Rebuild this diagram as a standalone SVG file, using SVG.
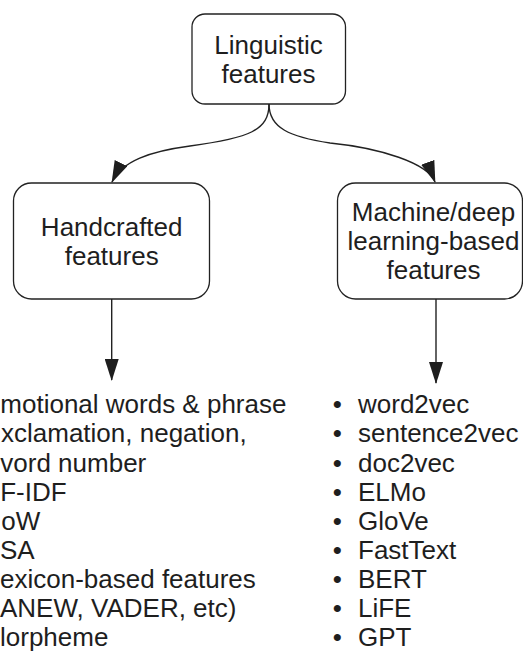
<svg xmlns="http://www.w3.org/2000/svg" width="523" height="652" viewBox="0 0 523 652">
  <style>
    .box { fill: #ffffff; stroke: #222222; stroke-width: 1.3; }
    .lbl { font-family: "Liberation Sans", Arial, sans-serif; font-size: 26px; fill: #1e1e1e; text-anchor: middle; }
    .item { font-family: "Liberation Sans", Arial, sans-serif; font-size: 26px; fill: #1e1e1e; }
    .bul { font-family: "Liberation Sans", Arial, sans-serif; font-size: 26px; fill: #1e1e1e; text-anchor: middle; }
    .edge { fill: none; stroke: #222222; stroke-width: 1.4; }
  </style>
  <defs>
    <marker id="arrow" markerUnits="userSpaceOnUse" markerWidth="22" markerHeight="14" viewBox="0 0 22 14" refX="21" refY="7" orient="auto">
      <path d="M0,0 L22,7 L0,14 Z" fill="#1e1e1e"/>
    </marker>
  </defs>
  <rect width="523" height="652" fill="#ffffff"/>

  <g id="edges">
    <path class="edge" d="M269,104 C269,130 250,138 190,146 C150,151.3 122,161 112,182" marker-end="url(#arrow)"/>
    <path class="edge" d="M269,104 C269,128 290,137 330,143 C380,148 428,163 435,182" marker-end="url(#arrow)"/>
    <path class="edge" d="M111.7,299 L111.7,380" marker-end="url(#arrow)"/>
    <path class="edge" d="M436,299 L436,383" marker-end="url(#arrow)"/>
  </g>

  <g id="node-linguistic">
    <rect class="box" x="192" y="14" width="153.5" height="90" rx="13" ry="13"/>
    <text class="lbl" x="268.5" y="54.3">Linguistic</text>
    <text class="lbl" x="268.5" y="82.5">features</text>
  </g>

  <g id="node-handcrafted">
    <rect class="box" x="13.5" y="183" width="196" height="116" rx="18" ry="18"/>
    <text class="lbl" x="111.7" y="236">Handcrafted</text>
    <text class="lbl" x="111.7" y="265">features</text>
  </g>

  <g id="node-ml">
    <rect class="box" x="337.5" y="183" width="185" height="116" rx="18" ry="18"/>
    <text class="lbl" x="433.5" y="221">Machine/deep</text>
    <text class="lbl" x="433.5" y="250">learning-based</text>
    <text class="lbl" x="433.5" y="279">features</text>
  </g>

  <g id="list-handcrafted">
    <text class="item" x="0.3" y="413.3">motional words &amp; phrase</text>
    <text class="item" x="1" y="442.4">xclamation, negation,</text>
    <text class="item" x="0.3" y="471.5">vord number</text>
    <text class="item" x="0.2" y="500.6">F-IDF</text>
    <text class="item" x="1.3" y="529.7">oW</text>
    <text class="item" x="0" y="558.8">SA</text>
    <text class="item" x="0" y="587.9">exicon-based features</text>
    <text class="item" x="0" y="617">ANEW, VADER, etc)</text>
    <text class="item" x="0" y="646.1">lorpheme</text>
  </g>

  <g id="list-ml">
    <text class="bul" x="337.3" y="413.3">•</text>
    <text class="bul" x="337.3" y="442.4">•</text>
    <text class="bul" x="337.3" y="471.5">•</text>
    <text class="bul" x="337.3" y="500.6">•</text>
    <text class="bul" x="337.3" y="529.7">•</text>
    <text class="bul" x="337.3" y="558.8">•</text>
    <text class="bul" x="337.3" y="587.9">•</text>
    <text class="bul" x="337.3" y="617">•</text>
    <text class="bul" x="337.3" y="646.1">•</text>
    <text class="item" x="358" y="413.3">word2vec</text>
    <text class="item" x="358" y="442.4">sentence2vec</text>
    <text class="item" x="358" y="471.5">doc2vec</text>
    <text class="item" x="358" y="500.6">ELMo</text>
    <text class="item" x="358" y="529.7">GloVe</text>
    <text class="item" x="358" y="558.8">FastText</text>
    <text class="item" x="358" y="587.9">BERT</text>
    <text class="item" x="358" y="617">LiFE</text>
    <text class="item" x="358" y="646.1">GPT</text>
  </g>
</svg>
